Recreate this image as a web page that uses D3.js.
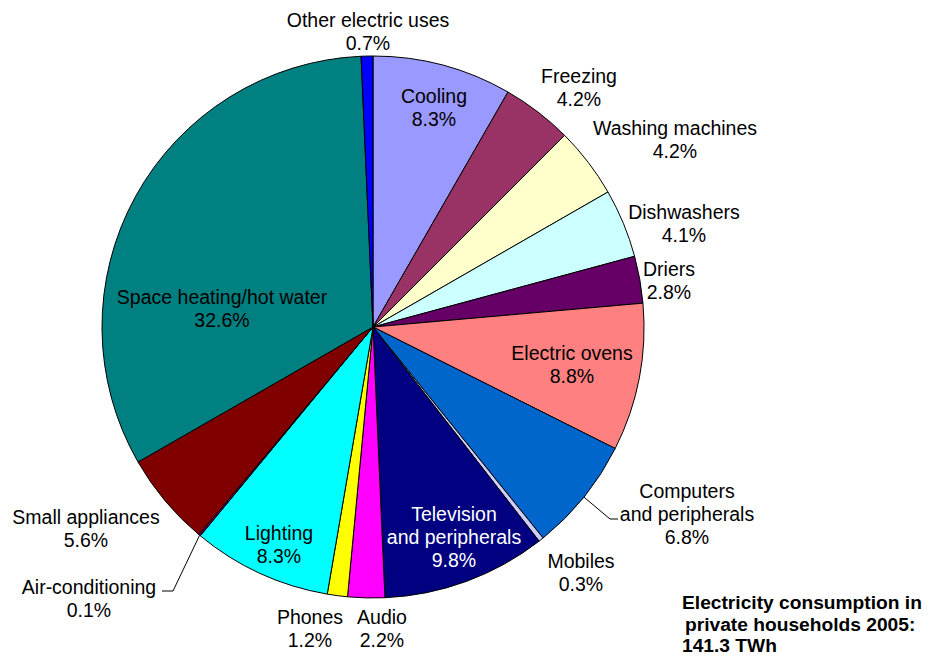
<!DOCTYPE html>
<html><head><meta charset="utf-8">
<script src="https://cdn.jsdelivr.net/npm/d3@7"></script>
<style>body{margin:0;background:#fff}svg{display:block}text{font-family:Arial,"Liberation Sans",sans-serif}</style>
</head><body>
<svg id="c" width="934" height="657"></svg>
<script>
const categories = ["Cooling","Freezing","Washing machines","Dishwashers","Driers","Electric ovens","Computers and peripherals","Mobiles","Television and peripherals","Audio","Phones","Lighting","Air-conditioning","Small appliances","Space heating/hot water","Other electric uses"];
const values = [8.3,4.2,4.2,4.1,2.8,8.8,6.8,0.3,9.8,2.2,1.2,8.3,0.1,5.6,32.6,0.7];
const colors = ["#9999FF","#993366","#FFFFCC","#CCFFFF","#660066","#FF8080","#0066CC","#CCCCFF","#000080","#FF00FF","#FFFF00","#00FFFF","#800080","#800000","#008080","#0000FF"];
// label text lines
const labelLines = [["Cooling"],["Freezing"],["Washing machines"],["Dishwashers"],["Driers"],["Electric ovens"],["Computers","and peripherals"],["Mobiles"],["Television","and peripherals"],["Audio"],["Phones"],["Lighting"],["Air-conditioning"],["Small appliances"],["Space heating/hot water"],["Other electric uses"]];
// label placement (center x, first baseline y)
const labelPos = [[434,103],[579,83],[675,135],[684,219],[669,276],[572,360],[687,498],[581,568],[454,521],[382,624],[310,624],[279,540],[89,594],[86,524],[222,304],[368,27]];
const labelFill = ["#000","#000","#000","#000","#000","#000","#000","#000","#fff","#000","#000","#000","#000","#000","#000","#000"];
const leaders = {6:[[610,519],[618,519]], 12:[[173,591],[162,591]]};
const title = ["Electricity consumption in","private households 2005:","141.3 TWh"];

const cx = 373, cy = 327, R = 271;
const svg = d3.select("#c");
const g = svg.append("g").attr("transform",`translate(${cx},${cy})`);
const pie = d3.pie().sort(null).value(d=>d);
const arcs = pie(values);
const arc = d3.arc().innerRadius(0).outerRadius(R);
g.selectAll("path").data(arcs).join("path")
  .attr("d",arc).attr("fill",(d,i)=>colors[i])
  .attr("stroke","#000").attr("stroke-width",1).attr("stroke-linejoin","round");

// leader lines
Object.keys(leaders).forEach(k=>{
  const a = arcs[k]; const m=(a.startAngle+a.endAngle)/2;
  const p0=[cx+R*Math.sin(m), cy-R*Math.cos(m)];
  const pts=[p0].concat(leaders[k]);
  svg.append("path").attr("d",d3.line()(pts)).attr("fill","none").attr("stroke","#000").attr("stroke-width",1);
});

const fs = 19.5, lh = 23;
categories.forEach((c,i)=>{
  const lines = labelLines[i].concat([values[i].toFixed(1)+"%"]);
  const t = svg.append("text").attr("text-anchor","middle").attr("font-size",fs).attr("fill",labelFill[i]);
  lines.forEach((l,j)=>t.append("tspan").attr("x",labelPos[i][0]).attr("y",labelPos[i][1]+j*lh).text(l));
});

const tt = svg.append("text").attr("font-size",19.2).attr("font-weight","bold").attr("fill","#000");
[[682,609],[685,631],[682,652]].forEach((p,j)=>tt.append("tspan").attr("x",p[0]).attr("y",p[1]).text(title[j]));
</script>
</body></html>
